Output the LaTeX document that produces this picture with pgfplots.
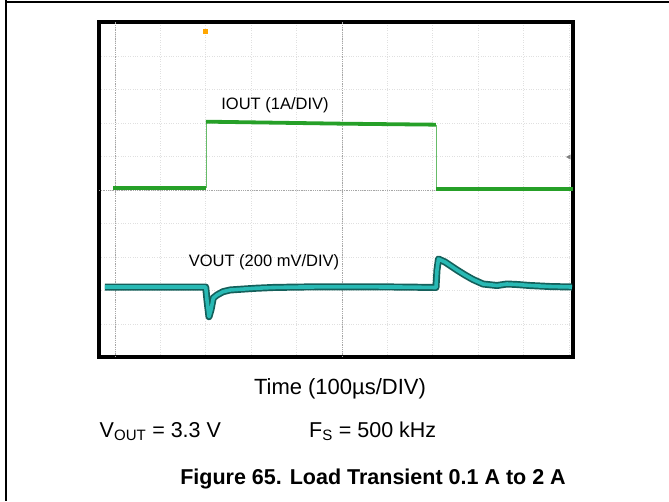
\documentclass[border=0pt]{standalone}
\usepackage{fontspec}
\setmainfont{Liberation Sans}
\usepackage{pgfplots}
\pgfplotsset{compat=1.18}
\definecolor{igreen}{RGB}{38,160,40}
\definecolor{vcyan}{RGB}{40,185,180}
\definecolor{vdark}{RGB}{20,95,90}
\begin{document}
\begin{tikzpicture}[x=1pt,y=1pt]
\useasboundingbox (0,0) rectangle (669,501);
\draw[line width=1.5pt] (6,501) -- (6,0);
\draw[line width=1.5pt] (6,499.2) -- (669,499.2);
\begin{axis}[at={(99pt,144pt)}, anchor=south west, scale only axis,
  width=474pt, height=335pt,
  xmin=-35.2, xmax=1008.8, ymin=-4.985, ymax=5.015,
  axis line style={line width=3.2pt},
  xtick={0,100,...,1000}, ytick={-4,...,4},
  xticklabels={}, yticklabels={}, major tick length=0pt,
  grid=major, major grid style={black!12, dotted, line width=0.8pt},
  extra x ticks={0,500}, extra y ticks={0},
  extra x tick labels={}, extra y tick labels={},
  extra tick style={major grid style={black!35, densely dotted, line width=0.8pt}},
  clip=true]
% IOUT (1 A/div)
\addplot[igreen, line width=3.8pt] coordinates {(-4.4,0.07) (200.4,0.07)};
\addplot[igreen!70, line width=0.9pt] coordinates {(200.4,0.07) (200.4,2.04)};
\addplot[igreen, line width=3.8pt] coordinates {(200.4,2.04) (350,2.01) (500,1.98) (707,1.95)};
\addplot[igreen!70, line width=0.9pt] coordinates {(707,1.95) (707,0.03)};
\addplot[igreen, line width=3.8pt] coordinates {(707,0.03) (1008.8,0.03)};
% VOUT (200 mV/div)
\pgfplotstableread{
x y
-22.0 -2.896
199.8 -2.896
202.6 -3.284
207.0 -3.782
211.4 -3.582
216.5 -3.224
224.7 -3.134
237.9 -3.036
253.3 -2.985
275.3 -2.964
308.4 -2.934
348.0 -2.910
407.5 -2.896
495.6 -2.890
627.7 -2.896
707.0 -2.910
709.2 -2.388
712.5 -2.060
726.9 -2.149
753.3 -2.388
770.9 -2.537
788.5 -2.672
810.6 -2.806
841.4 -2.851
863.4 -2.806
885.4 -2.821
914.1 -2.851
958.1 -2.881
1006.6 -2.896
}\vout
\addplot[vdark, line width=7pt, line join=round] table[x=x,y=y] {\vout};
\addplot[vcyan, line width=3.6pt, line join=round] table[x=x,y=y] {\vout};
% markers
\addplot[only marks, mark=square*, mark size=2pt, color=orange!70!yellow] coordinates {(198,4.75)};
\addplot[only marks, mark=triangle*, mark options={rotate=90}, mark size=2.5pt, color=black!50] coordinates {(1000,0.985)};
\node[font=\fontsize{16.5}{19}\selectfont] at (axis cs:352.4,2.537) {IOUT (1A/DIV)};
\node[font=\fontsize{16.5}{19}\selectfont] at (axis cs:328.2,-2.149) {VOUT (200 mV/DIV)};
\end{axis}
\node[anchor=base, font=\fontsize{22}{26}\selectfont] at (340,107) {Time (100µs/DIV)};
\node[anchor=base west, inner sep=0pt, font=\fontsize{21.5}{26}\selectfont] at (99.5,64) {V\textsubscript{OUT} = 3.3 V};
\node[anchor=base west, inner sep=0pt, font=\fontsize{21.5}{26}\selectfont] at (309,64) {F\textsubscript{S} = 500 kHz};
\node[anchor=base, font=\bfseries\fontsize{21.5}{26}\selectfont] at (373,17) {Figure 65. Load Transient 0.1 A to 2 A};
\end{tikzpicture}
\end{document}
